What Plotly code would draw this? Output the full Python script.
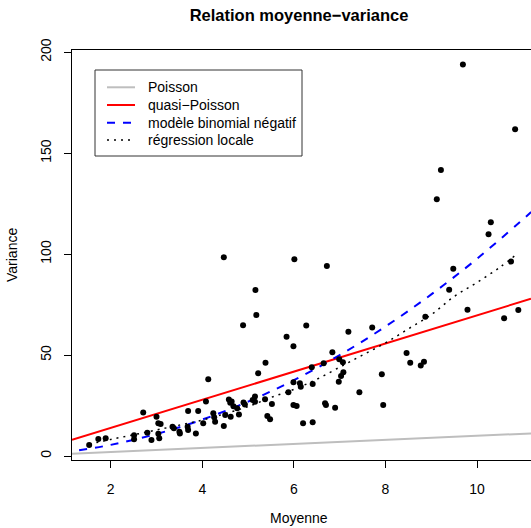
import plotly.graph_objects as go

# ---- data ----
moyenne = [1.53, 1.73, 1.89, 2.51, 2.51, 2.71, 2.80, 2.89, 3.00, 3.04, 3.09, 3.06, 3.04,
           3.35, 3.38, 3.50, 3.51, 3.69, 3.68, 3.69, 3.86, 3.91, 4.02, 4.08, 4.13, 4.24,
           4.26, 4.28, 4.47, 4.50, 4.47, 4.58, 4.61, 4.64, 4.68, 4.62, 4.76, 4.80, 4.89,
           4.90, 4.93, 5.10, 5.15, 5.16, 5.18, 5.22, 5.38, 5.37, 5.52, 5.42, 5.48, 5.84,
           5.99, 6.01, 6.27, 5.88, 5.99, 6.13, 6.15, 6.41, 5.99, 6.06, 6.20, 6.41, 6.39,
           6.65, 6.68, 6.70, 6.72, 6.84, 6.90, 6.99, 7.07, 7.08, 7.03, 6.98, 7.19, 7.43,
           7.71, 7.92, 7.95, 8.46, 8.54, 8.77, 8.84, 8.87, 9.12, 9.21, 9.39, 9.48, 9.69,
           9.79, 10.25, 10.30, 10.59, 10.74, 10.83, 10.90, 5.15]
variance = [5.4, 8.4, 8.8, 10.3, 8.3, 21.5, 11.5, 7.9, 19.5, 16.2, 15.9, 8.8, 11.0,
            14.5, 13.7, 12.0, 11.2, 22.3, 14.5, 12.9, 11.2, 22.3, 16.2, 27.0, 38.0, 21.2,
            19.2, 17.0, 14.9, 20.3, 98.4, 28.0, 26.4, 27.0, 24.6, 19.5, 23.6, 20.5, 64.8,
            26.5, 25.5, 27.7, 29.5, 82.2, 69.9, 41.0, 46.2, 28.1, 25.8, 19.8, 18.2, 59.1,
            54.4, 97.5, 64.6, 31.6, 36.5, 36.0, 34.3, 35.7, 25.3, 24.8, 16.2, 16.7, 43.9,
            46.0, 26.1, 25.3, 94.1, 51.4, 23.9, 47.9, 46.4, 41.5, 39.6, 36.8, 61.6, 31.6,
            63.6, 40.5, 25.3, 51.0, 46.2, 44.8, 46.7, 69.0, 127.2, 141.7, 82.3, 92.8, 193.9,
            72.5, 109.8, 115.8, 68.2, 96.3, 161.9, 72.3, 26.9]

poisson_x = [1.155, 11.177]
poisson_y = [1.155, 11.177]
quasi_x = [1.155, 11.177]
quasi_y = [8.05, 77.9]
nb_x = [1.31, 2, 3, 4, 5, 6, 7, 8, 9, 10, 11.18]
nb_y = [2.82, 5.51, 10.89, 18.04, 26.93, 37.58, 49.98, 64.14, 80.05, 97.72, 120.82]
loess_x = [1.53, 2, 2.5, 3, 3.5, 4, 4.5, 5, 5.5, 6, 6.5, 7, 7.5, 8, 8.5, 9, 9.5, 10, 10.5, 10.9]
loess_y = [5.8, 8.2, 10.5, 12.9, 15.3, 17.8, 21.0, 24.5, 29.0, 33.0, 38.0, 44.0, 50.0, 56.0,
           63.0, 70.0, 79.0, 86.0, 93.5, 100.6]

x_ticks = [2, 4, 6, 8, 10]
y_ticks = [0, 50, 100, 150, 200]
legend_labels = ["Poisson", "quasi\u2212Poisson", "modèle binomial négatif", "régression locale"]
title_text = "Relation moyenne\u2212variance"

FONT = "Liberation Sans, Arial, sans-serif"
FS = 14
W, H = 531, 528
L, R, T, B = 72, 0, 50, 68
PW, PH = W - L - R, H - T - B

def px2paper_x(px):
    return (px - L) / PW

def py2paper_y(py):
    return (H - B - py) / PH

fig = go.Figure()
fig.add_trace(go.Scatter(x=poisson_x, y=poisson_y, mode="lines",
                         line=dict(color="#BEBEBE", width=2), showlegend=False, hoverinfo="skip"))
fig.add_trace(go.Scatter(x=quasi_x, y=quasi_y, mode="lines",
                         line=dict(color="#FF0000", width=2), showlegend=False, hoverinfo="skip"))
fig.add_trace(go.Scatter(x=nb_x, y=nb_y, mode="lines", line_shape="spline",
                         line=dict(color="#0000FF", width=2, dash="8px,8px"),
                         showlegend=False, hoverinfo="skip"))
fig.add_trace(go.Scatter(x=loess_x, y=loess_y, mode="lines", line_shape="spline",
                         line=dict(color="#000000", width=1.5, dash="2px,5px"),
                         showlegend=False, hoverinfo="skip"))
fig.add_trace(go.Scatter(x=moyenne, y=variance, mode="markers",
                         marker=dict(color="black", size=6), showlegend=False))

# custom legend box (R style)
shapes = [dict(type="rect", xref="paper", yref="paper",
               x0=px2paper_x(95), x1=px2paper_x(302), y0=py2paper_y(156), y1=py2paper_y(70),
               line=dict(color="#333333", width=1), fillcolor="white", layer="above")]
leg_styles = [dict(color="#BEBEBE", width=2), dict(color="#FF0000", width=2),
              dict(color="#0000FF", width=2, dash="8px,8px"),
              dict(color="#000000", width=1.5, dash="2px,5px")]
leg_y = [87.3, 105, 122.7, 140]
annotations = []
for lab, st, yy in zip(legend_labels, leg_styles, leg_y):
    shapes.append(dict(type="line", xref="paper", yref="paper",
                       x0=px2paper_x(107), x1=px2paper_x(135),
                       y0=py2paper_y(yy), y1=py2paper_y(yy), line=st, layer="above"))
    annotations.append(dict(text=lab, xref="paper", yref="paper", x=px2paper_x(146),
                            y=py2paper_y(yy), xanchor="left", yanchor="middle", showarrow=False,
                            font=dict(family=FONT, size=FS, color="black")))

annotations.append(dict(text="Moyenne", xref="paper", yref="paper", x=px2paper_x(299),
                        y=py2paper_y(518), xanchor="center", yanchor="middle", showarrow=False,
                        font=dict(family=FONT, size=FS, color="black")))
annotations.append(dict(text="Variance", xref="paper", yref="paper", x=px2paper_x(12),
                        y=0.5, xanchor="center", yanchor="middle", showarrow=False, textangle=-90,
                        font=dict(family=FONT, size=FS, color="black")))

fig.update_layout(
    width=W, height=H, margin=dict(l=L, r=R, t=T, b=B, pad=0),
    paper_bgcolor="white", plot_bgcolor="white",
    title=dict(text="<b>" + title_text + "</b>", x=299 / W, xanchor="center",
               y=1 - 15 / H, yanchor="middle", yref="container",
               font=dict(family=FONT, size=16.5, color="black")),
    shapes=shapes, annotations=annotations,
    xaxis=dict(range=[1.155, 11.177], tickvals=x_ticks, ticktext=[str(v) for v in x_ticks],
               showgrid=False, zeroline=False, showline=True, linecolor="black", linewidth=1,
               mirror=True, ticks="outside", ticklen=7, tickwidth=1, tickcolor="black",
               ticklabelstandoff=9, tickfont=dict(family=FONT, size=FS, color="black")),
    yaxis=dict(range=[-1.98, 201.1], tickvals=y_ticks, ticktext=[str(v) for v in y_ticks],
               showgrid=False, zeroline=False, showline=True, linecolor="black", linewidth=1,
               mirror=False, ticks="outside", ticklen=7, tickwidth=1, tickcolor="black",
               tickangle=-90, ticklabelstandoff=7,
               tickfont=dict(family=FONT, size=FS, color="black")),
    showlegend=False,
)

fig.write_html("out.html")
